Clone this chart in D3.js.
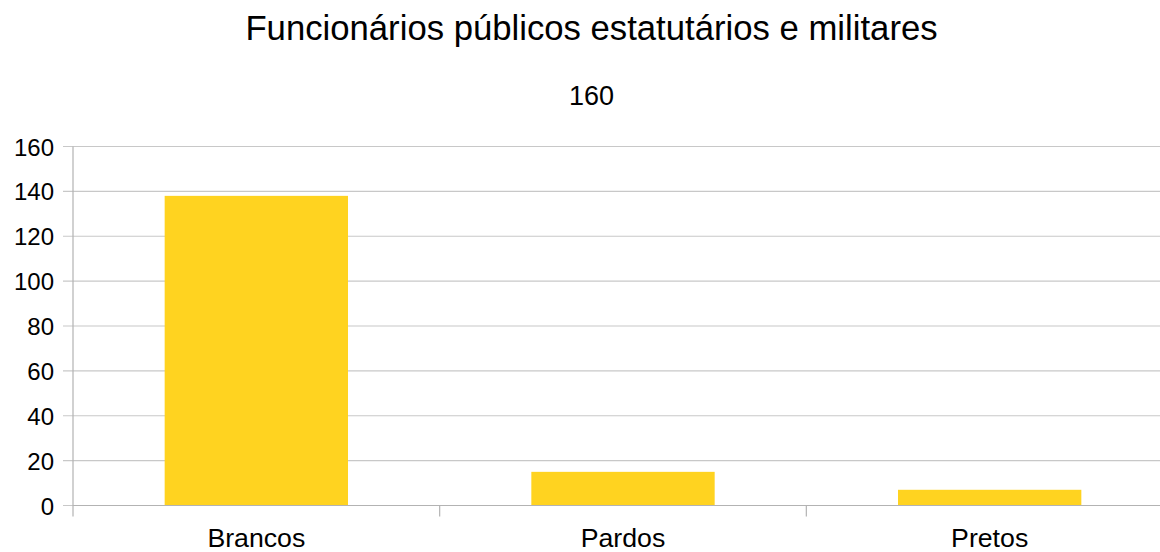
<!DOCTYPE html>
<html><head><meta charset="utf-8">
<script src="https://cdn.jsdelivr.net/npm/d3@7"></script>
<style>body{margin:0;background:#fff}svg{display:block}text{font-family:"Liberation Sans",Arial,sans-serif;fill:#000}</style>
</head><body><svg id="c" width="1160" height="552"></svg>
<script>
const title = "Funcionários públicos estatutários e militares";
const subtitle = "160";
const categories = ["Brancos", "Pardos", "Pretos"];
const values = [138, 15, 7];
const yTicks = [0, 20, 40, 60, 80, 100, 120, 140, 160];

const svg = d3.select("#c");
const pLeft = 73, pRight = 1173, pTop = 146.5, pBottom = 505.5;
const x = d3.scaleBand().domain(categories).range([pLeft, pRight]).paddingInner(0).paddingOuter(0);
const y = d3.scaleLinear().domain([0, 160]).range([pBottom, pTop]);

// gridlines
svg.append("g").selectAll("line").data(yTicks).join("line")
  .attr("x1", pLeft - 10).attr("x2", 1160)
  .attr("y1", d => y(d)).attr("y2", d => y(d))
  .attr("stroke", "#c8c8c8").attr("stroke-width", 1.2);

// bars
const bw = x.bandwidth() * 0.5;
svg.append("g").selectAll("rect").data(values).join("rect")
  .attr("x", (d, i) => x(categories[i]) + (x.bandwidth() - bw) / 2)
  .attr("width", bw)
  .attr("y", d => y(d)).attr("height", d => y(0) - y(d))
  .attr("fill", "#ffd320");

// y axis line
svg.append("line").attr("x1", pLeft).attr("x2", pLeft).attr("y1", pTop).attr("y2", pBottom + 11)
  .attr("stroke", "#b3b3b3").attr("stroke-width", 1.2);
// x axis line
svg.append("line").attr("x1", pLeft).attr("x2", 1160).attr("y1", pBottom).attr("y2", pBottom)
  .attr("stroke", "#b3b3b3").attr("stroke-width", 1.2);
// x ticks at band boundaries
const bounds = categories.map(c => x(c)).slice(1);
svg.append("g").selectAll("line").data(bounds).join("line")
  .attr("x1", d => d).attr("x2", d => d).attr("y1", pBottom).attr("y2", pBottom + 11)
  .attr("stroke", "#b3b3b3").attr("stroke-width", 1.2);

// y labels
svg.append("g").selectAll("text").data(yTicks).join("text")
  .attr("x", 54).attr("y", d => y(d) + 9)
  .attr("text-anchor", "end").attr("font-size", 24).text(d => d);

// x labels
svg.append("g").selectAll("text").data(categories).join("text")
  .attr("x", d => x(d) + x.bandwidth() / 2).attr("y", 547)
  .attr("text-anchor", "middle").attr("font-size", 26.7).text(d => d);

svg.append("text").attr("x", 591.5).attr("y", 40).attr("text-anchor", "middle")
  .attr("font-size", 34.7).text(title);
svg.append("text").attr("x", 591.5).attr("y", 105).attr("text-anchor", "middle")
  .attr("font-size", 27).text(subtitle);
</script></body></html>
